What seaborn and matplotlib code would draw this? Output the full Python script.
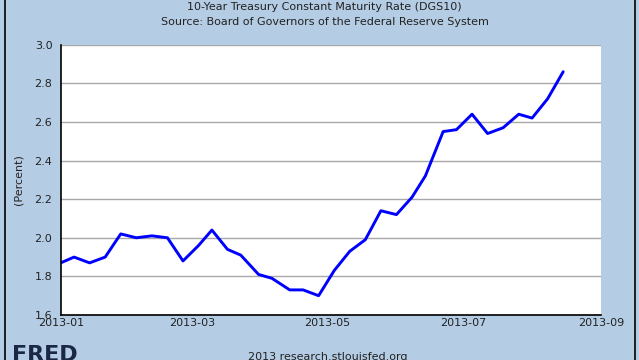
"""
10-Year Treasury yield, FRED style chart recreated with seaborn.
"""

import matplotlib
matplotlib.use("Agg")
import matplotlib.pyplot as plt
import matplotlib.dates as mdates
import seaborn as sns
import pandas as pd

# Observation dates as placed on the chart (weekly)
obs_dates = [
    "2013-01-01", "2013-01-07", "2013-01-14", "2013-01-21", "2013-01-28",
    "2013-02-04", "2013-02-11", "2013-02-18", "2013-02-25", "2013-03-04",
    "2013-03-10", "2013-03-17", "2013-03-23", "2013-03-31", "2013-04-06",
    "2013-04-14", "2013-04-20", "2013-04-27", "2013-05-04", "2013-05-11",
    "2013-05-18", "2013-05-25", "2013-06-01", "2013-06-08", "2013-06-14",
    "2013-06-22", "2013-06-28", "2013-07-05", "2013-07-12", "2013-07-19",
    "2013-07-26", "2013-08-01", "2013-08-08", "2013-08-15",
]
yield_pct = [
    1.87, 1.90, 1.87, 1.90, 2.02, 2.00, 2.01, 2.00, 1.88, 1.96,
    2.04, 1.94, 1.91, 1.81, 1.79, 1.73, 1.73, 1.70, 1.83, 1.93,
    1.99, 2.14, 2.12, 2.21, 2.32, 2.55, 2.56, 2.64, 2.54, 2.57,
    2.64, 2.62, 2.72, 2.86,
]
y_ticks = [1.6, 1.8, 2.0, 2.2, 2.4, 2.6, 2.8, 3.0]
x_ticks = ["2013-01-01", "2013-03-01", "2013-05-01", "2013-07-01", "2013-09-01"]

title = "10-Year Treasury Constant Maturity Rate (DGS10)"
subtitle = "Source: Board of Governors of the Federal Reserve System"

BG = "#B4CDE4"

sns.set_style("white")
plt.rcParams["font.family"] = ["DejaVu Sans"]

df = pd.DataFrame({"date": pd.to_datetime(obs_dates), "value": yield_pct})

fig = plt.figure(figsize=(6.39, 3.6), dpi=100, facecolor=BG)
ax = fig.add_axes([60.7 / 639, 1 - 315 / 360, (601 - 60.7) / 639, (315 - 44.7) / 360])
ax.set_facecolor("white")

sns.lineplot(data=df, x="date", y="value", ax=ax, color="#0000FF", linewidth=2.1)

ax.set_xlim(pd.Timestamp("2013-01-01"), pd.Timestamp("2013-09-01"))
ax.set_ylim(1.6, 3.0)
ax.set_yticks(y_ticks)
ax.set_yticklabels([f"{v:.1f}" for v in y_ticks])
ax.set_xticks(pd.to_datetime(x_ticks))
ax.xaxis.set_major_formatter(mdates.DateFormatter("%Y-%m"))

ax.grid(axis="y", color="#A8A8A8", linewidth=1.0)
ax.set_axisbelow(True)
for side in ["top", "right"]:
    ax.spines[side].set_visible(False)
for side in ["left", "bottom"]:
    ax.spines[side].set_color("black")
    ax.spines[side].set_linewidth(1.2)

ax.tick_params(axis="x", direction="in", length=5, width=1, colors="black",
               labelsize=8, labelcolor="#222222", pad=2)
ax.tick_params(axis="y", direction="out", length=4, width=1, colors="black",
               labelsize=8, labelcolor="#222222", pad=2)
ax.set_xlabel("")
ax.set_ylabel("(Percent)", fontsize=8, color="#222222", labelpad=8)

fig.text(0.508, 1 - 7 / 360, title, ha="center", va="center", fontsize=8, color="#222222")
fig.text(0.508, 1 - 22 / 360, subtitle, ha="center", va="center", fontsize=8, color="#222222")

# footer, cut off by the bottom edge like the original
fig.text(12 / 639, 1 - 345 / 360, "FRED", ha="left", va="top", fontsize=16,
         fontweight="bold", color="#1A2747")
fig.text(248 / 639, 1 - 352 / 360, "2013 research.stlouisfed.org", ha="left",
         va="top", fontsize=8, color="#222222")

# outer frame lines
fig.add_artist(plt.Line2D([5 / 639, 5 / 639], [0, 1], color="black", linewidth=1.2,
                          transform=fig.transFigure))
fig.add_artist(plt.Line2D([635 / 639, 635 / 639], [0, 1], color="black", linewidth=1.2,
                          transform=fig.transFigure))

fig.savefig("out.png", dpi=100, facecolor=BG)
